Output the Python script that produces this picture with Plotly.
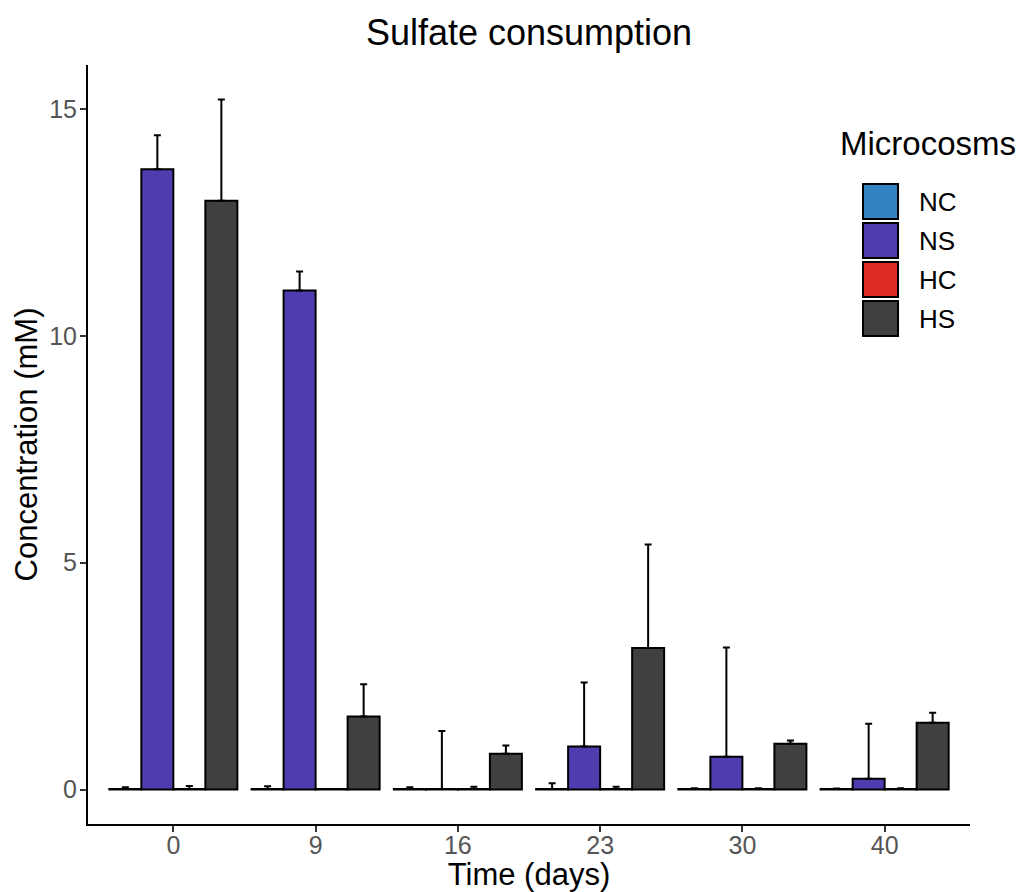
import plotly.graph_objects as go

# ---- data ----
days = ["0", "9", "16", "23", "30", "40"]
series_names = ["NC", "NS", "HC", "HS"]
series_colors = ["#3283C1", "#4F3DAF", "#DD2C26", "#404040"]

NC_mean = [0.01, 0.01, 0.01, 0.01, 0.01, 0.01]
NC_sd = [0.04, 0.06, 0.04, 0.13, 0.02, 0.01]
NS_mean = [13.67, 11.00, 0.01, 0.95, 0.72, 0.24]
NS_sd = [0.75, 0.42, 1.28, 1.41, 2.41, 1.21]
HC_mean = [0.01, 0.01, 0.01, 0.01, 0.01, 0.01]
HC_sd = [0.07, 0.00, 0.05, 0.05, 0.02, 0.02]
HS_mean = [12.98, 1.61, 0.79, 3.12, 1.01, 1.47]
HS_sd = [2.23, 0.71, 0.18, 2.28, 0.07, 0.22]

means = [NC_mean, NS_mean, HC_mean, HS_mean]
sds = [NC_sd, NS_sd, HC_sd, HS_sd]

FONT = "Liberation Sans, Arial, Helvetica, sans-serif"

fig = go.Figure()
for name, color, m, s in zip(series_names, series_colors, means, sds):
    fig.add_trace(go.Bar(
        x=days, y=m, name=name,
        marker=dict(color=color, line=dict(color="black", width=2)),
        error_y=dict(type="data", array=s, arrayminus=[0] * len(s), symmetric=False,
                     color="black", thickness=2, width=3.5),
        showlegend=False,
    ))

# ---- legend drawn as layout shapes/annotations (large keys like ggplot) ----
shapes = []
annotations = []
key_x0, key_x1 = 0.8787, 0.9184
key_top = 0.8432
key_h = 0.0461
step = 0.0514
for i, (name, color) in enumerate(zip(series_names, series_colors)):
    top = key_top - i * step
    shapes.append(dict(type="rect", xref="paper", yref="paper",
                       x0=key_x0, x1=key_x1, y0=top - key_h, y1=top,
                       fillcolor=color, line=dict(color="black", width=2)))
    annotations.append(dict(xref="paper", yref="paper", x=0.940, y=top - key_h / 2,
                            text=name, showarrow=False, xanchor="left", yanchor="middle",
                            font=dict(family=FONT, size=26, color="black")))
annotations.append(dict(xref="paper", yref="paper", x=0.8503, y=0.8972,
                        text="Microcosms", showarrow=False, xanchor="left", yanchor="middle",
                        font=dict(family=FONT, size=33, color="black")))

fig.update_layout(
    width=1023, height=892,
    margin=dict(l=88, r=53, t=65, b=68),
    paper_bgcolor="white", plot_bgcolor="white",
    barmode="group", bargap=0.1, bargroupgap=0,
    font=dict(family=FONT, color="black"),
    title=dict(text="Sulfate consumption", x=0.5, xref="paper", xanchor="center",
               y=1 - 32 / 892, yref="container", yanchor="middle",
               font=dict(family=FONT, size=36, color="black")),
    shapes=shapes, annotations=annotations,
    xaxis=dict(type="category", range=[-0.6, 5.6], showline=True, linecolor="black",
               linewidth=2, ticks="outside", ticklen=6, tickwidth=1.5, tickcolor="#333333",
               showgrid=False, zeroline=False, automargin=False, ticklabelstandoff=-8,
               tickfont=dict(family=FONT, size=25, color="#555555"),
               title=dict(text="Time (days)", standoff=0,
                          font=dict(family=FONT, size=31, color="black"))),
    yaxis=dict(range=[-0.76, 15.97], tickvals=[0, 5, 10, 15], showline=True,
               linecolor="black", linewidth=2, ticks="outside", ticklen=6, tickwidth=1.5,
               tickcolor="#333333", showgrid=False, zeroline=False, automargin=False,
               ticklabelstandoff=-2,
               tickfont=dict(family=FONT, size=25, color="#555555"),
               title=dict(text="Concentration (mM)", standoff=2,
                          font=dict(family=FONT, size=31, color="black"))),
)

fig.write_html("out.html")
